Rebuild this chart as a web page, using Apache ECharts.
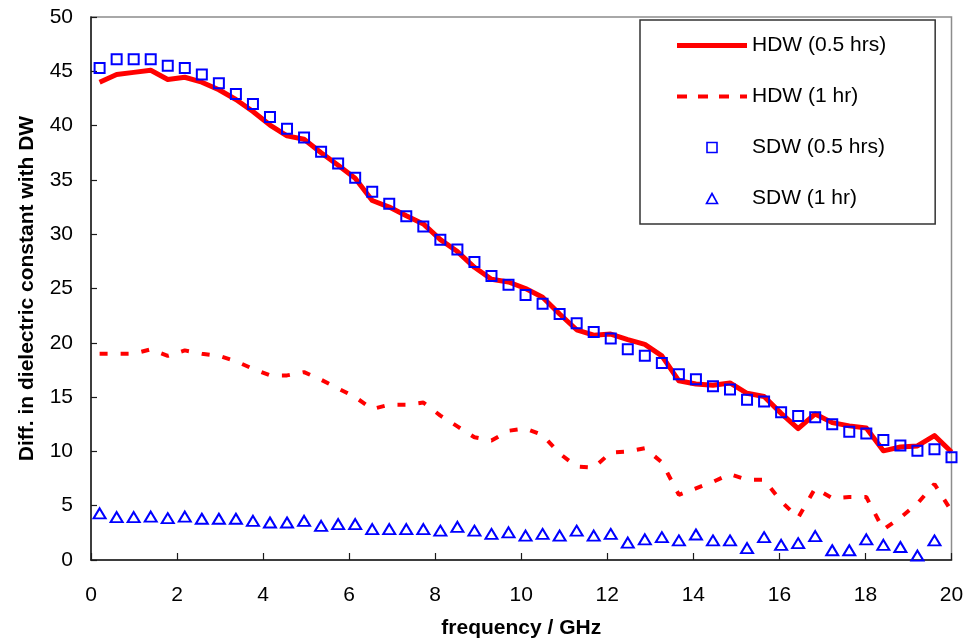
<!DOCTYPE html>
<html>
<head>
<meta charset="utf-8">
<script src="https://cdn.jsdelivr.net/npm/echarts@6/dist/echarts.min.js"></script>
<style>
html,body{margin:0;padding:0;background:#fff;}
#chart{width:969px;height:641px;}
</style>
</head>
<body>
<div id="chart"></div>
<script>
// Frequencies (GHz)
var frequency = [0.2, 0.596, 0.992, 1.388, 1.784, 2.18, 2.576, 2.972, 3.368, 3.764,
  4.16, 4.556, 4.952, 5.348, 5.744, 6.14, 6.536, 6.932, 7.328, 7.724,
  8.12, 8.516, 8.912, 9.308, 9.704, 10.1, 10.496, 10.892, 11.288, 11.684,
  12.08, 12.476, 12.872, 13.268, 13.664, 14.06, 14.456, 14.852, 15.248, 15.644,
  16.04, 16.436, 16.832, 17.228, 17.624, 18.02, 18.416, 18.812, 19.208, 19.604, 20.0];

var hdw05 = [44.0, 44.7, 44.9, 45.1, 44.25, 44.45, 44.0, 43.3, 42.4, 41.3,
  40.05, 39.05, 38.75, 37.5, 36.35, 35.15, 33.1, 32.5, 31.7, 30.95,
  29.5, 28.4, 26.95, 25.85, 25.6, 25.0, 24.2, 22.65, 21.2, 20.7,
  20.8, 20.3, 19.85, 18.8, 16.5, 16.2, 16.1, 16.3, 15.35, 15.05,
  13.5, 12.1, 13.45, 12.65, 12.35, 12.15, 10.05, 10.4, 10.5, 11.45, 9.95];

var hdw1 = [19.0, 19.0, 19.0, 19.4, 18.8, 19.3, 19.0, 18.8, 18.3, 17.6,
  17.0, 17.0, 17.3, 16.6, 15.8, 15.0, 13.9, 14.3, 14.3, 14.5,
  13.3, 12.3, 11.3, 11.0, 11.9, 12.1, 11.5, 9.8, 8.6, 8.5,
  9.9, 10.0, 10.3, 9.0, 6.0, 6.6, 7.2, 7.9, 7.4, 7.4,
  5.4, 3.9, 6.6, 5.7, 5.8, 5.8, 2.8, 3.9, 5.2, 7.0, 4.5];

var sdw05 = [45.3, 46.1, 46.1, 46.1, 45.5, 45.3, 44.7, 43.9, 42.9, 42.0,
  40.8, 39.7, 38.9, 37.6, 36.5, 35.2, 33.9, 32.8, 31.65, 30.7,
  29.5, 28.6, 27.45, 26.15, 25.35, 24.4, 23.6, 22.65, 21.8, 21.0,
  20.4, 19.4, 18.8, 18.15, 17.1, 16.65, 16.0, 15.7, 14.75, 14.6,
  13.6, 13.25, 13.15, 12.5, 11.8, 11.65, 11.05, 10.55, 10.05, 10.2, 9.45];

var sdw1 = [4.3, 3.95, 3.95, 4.0, 3.85, 4.0, 3.8, 3.8, 3.8, 3.6,
  3.45, 3.45, 3.6, 3.15, 3.3, 3.3, 2.85, 2.85, 2.85, 2.85,
  2.7, 3.05, 2.7, 2.4, 2.55, 2.25, 2.4, 2.25, 2.7, 2.25,
  2.4, 1.6, 1.9, 2.1, 1.8, 2.35, 1.8, 1.8, 1.1, 2.1,
  1.4, 1.55, 2.2, 0.9, 0.9, 1.9, 1.4, 1.2, 0.4, 1.8, null];

var seriesNames = ['HDW (0.5 hrs)', 'HDW (1 hr)', 'SDW (0.5 hrs)', 'SDW (1 hr)'];
var xTitle = 'frequency / GHz';
var yTitle = 'Diff. in dielectric constant with DW';

function pairs(ys) {
  return frequency.map(function (f, i) { return [f, ys[i]]; });
}

var FONT = '"Liberation Sans", Arial, sans-serif';
var chart = echarts.init(document.getElementById('chart'), null, {renderer: 'canvas'});
chart.setOption({
  animation: false,
  backgroundColor: '#ffffff',
  grid: {
    left: 91, right: 17.5, top: 17, bottom: 81,
    containLabel: false, outerBoundsMode: 'none',
    show: true, borderColor: '#8c8c8c', borderWidth: 1.5, backgroundColor: 'transparent'
  },
  legend: {
    orient: 'vertical',
    left: 640, top: 20,
    padding: [15, 49, 15, 37],
    itemGap: 30,
    itemWidth: 70,
    itemHeight: 10,
    symbolKeepAspect: true,
    backgroundColor: '#ffffff',
    borderColor: '#333333',
    borderWidth: 1.5,
    textStyle: {fontFamily: FONT, fontSize: 21, color: '#000'},
    data: [
      {name: seriesNames[0], icon: 'path://M0,0h70v5h-70Z',
        itemStyle: {color: '#ff0000', borderWidth: 0}},
      {name: seriesNames[1], icon: 'path://M0,0h10v4h-10ZM21,0h10v4h-10ZM42,0h10v4h-10ZM63,0h7v4h-7Z',
        itemStyle: {color: '#ff0000', borderWidth: 0}},
      {name: seriesNames[2], icon: 'path://M0,0h10v10h-10Z',
        itemStyle: {color: 'rgba(255,255,255,0)', borderColor: '#0000ff', borderWidth: 1.6}},
      {name: seriesNames[3], icon: 'path://M5.5,0L11,10L0,10Z',
        itemStyle: {color: 'rgba(255,255,255,0)', borderColor: '#0000ff', borderWidth: 1.6}}
    ]
  },
  xAxis: {
    type: 'value', min: 0, max: 20, interval: 2,
    name: xTitle, nameLocation: 'middle', nameGap: 58,
    nameTextStyle: {fontFamily: FONT, fontSize: 21, fontWeight: 'bold', color: '#000', verticalAlign: 'top'},
    axisLine: {show: true, onZero: false, lineStyle: {color: '#1a1a1a', width: 1.5}},
    axisTick: {show: true, inside: true, length: 7, lineStyle: {color: '#1a1a1a', width: 1.2}},
    axisLabel: {fontFamily: FONT, fontSize: 21, color: '#000', margin: 25},
    splitLine: {show: false}
  },
  yAxis: {
    type: 'value', min: 0, max: 50, interval: 5,
    name: yTitle, nameLocation: 'middle', nameGap: 53, nameRotate: 90,
    nameTextStyle: {fontFamily: FONT, fontSize: 21, fontWeight: 'bold', color: '#000'},
    axisLine: {show: true, onZero: false, lineStyle: {color: '#1a1a1a', width: 1.5}},
    axisTick: {show: true, inside: true, length: 6, lineStyle: {color: '#1a1a1a', width: 1.2}},
    axisLabel: {fontFamily: FONT, fontSize: 21, color: '#000', margin: 18},
    splitLine: {show: false}
  },
  series: [
    {
      name: seriesNames[0], type: 'line', data: pairs(hdw05),
      symbol: 'none', showSymbol: false, z: 2,
      lineStyle: {color: '#ff0000', width: 5, cap: 'butt', join: 'round'},
      itemStyle: {color: '#ff0000'}
    },
    {
      name: seriesNames[1], type: 'line', data: pairs(hdw1),
      symbol: 'none', showSymbol: false, z: 2,
      lineStyle: {color: '#ff0000', width: 4, type: [8, 13], cap: 'butt'},
      itemStyle: {color: '#ff0000'}
    },
    {
      name: seriesNames[2], type: 'scatter', data: pairs(sdw05),
      symbol: 'rect', symbolSize: 10, z: 3,
      itemStyle: {color: 'rgba(255,255,255,0)', borderColor: '#0000ff', borderWidth: 2, opacity: 1}
    },
    {
      name: seriesNames[3], type: 'scatter', data: pairs(sdw1),
      symbol: 'triangle', symbolSize: [12, 10], z: 3,
      itemStyle: {color: 'rgba(255,255,255,0)', borderColor: '#0000ff', borderWidth: 2, opacity: 1}
    }
  ]
});
</script>
</body>
</html>
